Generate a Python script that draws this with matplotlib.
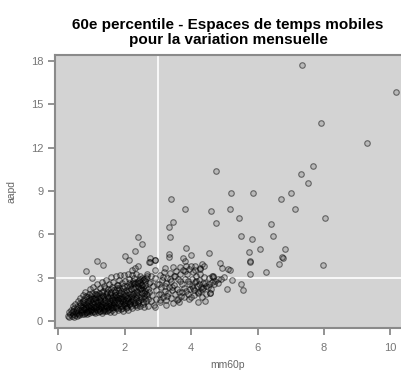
import matplotlib
matplotlib.use("Agg")
import matplotlib.pyplot as plt

# sparse points (mm60p, aapd)
outliers = [
    (7.33, 17.74), (10.17, 15.85), (7.91, 13.74), (9.30, 12.31), (7.68, 10.72),
    (4.76, 10.37), (7.31, 10.19), (7.52, 9.56), (5.20, 8.85), (5.87, 8.89),
    (7.00, 8.89), (6.71, 8.48), (4.61, 7.62), (5.16, 7.78), (7.14, 7.78),
    (5.44, 7.14), (8.02, 7.16), (4.76, 6.77), (6.42, 6.70), (5.49, 5.91),
    (6.46, 5.91), (5.83, 5.70), (3.39, 8.45), (3.82, 7.74), (3.45, 6.86),
    (3.33, 6.49), (3.36, 5.84), (2.40, 5.80),
]

spread = [
    (4.53, 4.73), (5.73, 4.80), (6.08, 4.99), (6.82, 4.99), (5.76, 4.11),
    (5.78, 4.15), (6.75, 4.44), (6.77, 4.40), (6.65, 3.97), (7.97, 3.88),
    (6.27, 3.40), (5.78, 3.24), (4.87, 4.00), (4.93, 3.69), (5.12, 3.58),
    (5.17, 3.51), (4.65, 3.12), (4.63, 3.15), (4.67, 3.08), (4.39, 3.81),
    (4.27, 3.65), (5.24, 2.82), (5.51, 2.59), (5.57, 2.13), (5.09, 2.24),
    (4.43, 1.39), (4.27, 2.10), (4.35, 2.30), (4.45, 2.45), (4.55, 2.55),
    (4.62, 2.70), (4.72, 2.80), (4.82, 2.90), (4.90, 2.95), (5.00, 3.05),
    (4.57, 1.92), (4.58, 1.95), (4.42, 2.61), (4.30, 2.40), (4.20, 2.00),
    (4.15, 2.75), (4.05, 2.30), (3.84, 5.08), (3.33, 4.64), (3.34, 4.46),
    (3.75, 4.39), (3.81, 4.20), (3.99, 4.57), (2.90, 4.21), (2.76, 4.10),
    (2.53, 5.31), (2.31, 4.87), (2.01, 4.53), (2.13, 4.25), (1.16, 4.18),
    (1.36, 3.88), (0.85, 3.49), (1.02, 2.96), (2.76, 4.34), (2.91, 4.23),
    (2.74, 4.11), (2.41, 3.81), (2.31, 3.65), (2.23, 3.53), (2.91, 3.53),
    (3.21, 3.65), (3.46, 3.75), (3.66, 3.78), (3.86, 3.85), (4.01, 3.85),
    (4.11, 3.85), (4.32, 3.95), (4.27, 3.60), (4.22, 1.34), (2.91, 0.98),
    (2.55, 1.20), (2.58, 2.90), (2.62, 1.60), (2.65, 2.30), (2.68, 3.30),
    (2.70, 1.05), (2.72, 2.00), (2.75, 2.70), (2.78, 1.40), (2.80, 3.10),
    (2.83, 1.80), (2.85, 2.45), (2.88, 1.15), (2.90, 3.00), (2.93, 2.15),
    (2.95, 1.55), (2.98, 2.60), (3.02, 1.90), (3.05, 3.20), (3.07, 1.30),
    (3.10, 2.40), (3.12, 2.85), (3.15, 1.70), (3.18, 3.40), (3.20, 2.10),
    (3.23, 1.45), (3.25, 2.65), (3.28, 3.00), (3.30, 1.95), (3.33, 2.35),
    (3.35, 3.35), (3.38, 1.60), (3.40, 2.80), (3.43, 2.15), (3.45, 1.25),
    (3.48, 3.10), (3.50, 2.50), (3.53, 1.85), (3.55, 3.45), (3.58, 2.25),
    (3.60, 1.55), (3.62, 2.95), (3.65, 2.05), (3.68, 3.25), (3.70, 1.75),
    (3.72, 2.60), (3.75, 3.55), (3.78, 2.30), (3.80, 1.65), (3.83, 2.90),
    (3.85, 2.10), (3.88, 3.30), (3.90, 1.90), (3.93, 2.55), (3.95, 3.60),
    (3.98, 2.25), (4.00, 1.70), (4.03, 2.95), (4.05, 3.40), (4.08, 2.15),
    (4.10, 1.80), (4.12, 2.70), (4.15, 3.15), (4.18, 2.45), (4.22, 1.95),
    (4.25, 2.85), (4.28, 3.30), (4.32, 2.20), (4.36, 2.65), (4.40, 3.05),
    (4.45, 1.85), (4.50, 2.35), (4.55, 3.00), (4.60, 2.20), (4.70, 2.55),
    (4.80, 2.65), (3.02, 2.55), (3.08, 1.85), (3.14, 3.05), (3.22, 2.45),
    (3.27, 1.75), (3.36, 2.95), (3.42, 2.35), (3.52, 3.15), (3.57, 1.45),
    (3.66, 2.75), (3.74, 2.05), (3.82, 3.45), (3.92, 2.75), (4.02, 2.45),
    (4.13, 3.55), (4.24, 2.55), (4.34, 1.65), (3.05, 1.45), (3.25, 1.15),
    (3.65, 1.35), (3.95, 1.55),
]

cluster = [
    (0.28, 0.38), (0.31, 0.62), (0.33, 0.29), (0.36, 0.48), (0.37, 0.81),
    (0.40, 0.35), (0.41, 0.66), (0.43, 1.02), (0.45, 0.52), (0.47, 0.31),
    (0.48, 0.88), (0.50, 0.43), (0.51, 1.18), (0.53, 0.71), (0.55, 0.36),
    (0.56, 0.97), (0.58, 1.42), (0.59, 0.58), (0.61, 0.81), (0.62, 0.40),
    (0.64, 1.26), (0.65, 1.61), (0.67, 0.66), (0.68, 0.99), (0.70, 0.47),
    (0.71, 1.33), (0.73, 1.78), (0.74, 0.77), (0.76, 1.09), (0.77, 0.52),
    (0.79, 1.52), (0.80, 0.91), (0.82, 2.02), (0.83, 0.63), (0.84, 1.21),
    (0.86, 1.66), (0.87, 0.48), (0.89, 1.02), (0.90, 1.38), (0.91, 0.72),
    (0.93, 1.88), (0.94, 0.56), (0.95, 1.14), (0.97, 2.21), (0.98, 0.84),
    (0.99, 1.51), (1.01, 0.62), (1.02, 1.27), (1.03, 1.96), (1.05, 0.95),
    (1.06, 2.38), (1.07, 0.71), (1.09, 1.62), (1.10, 1.08), (1.11, 0.55),
    (1.13, 2.09), (1.14, 1.35), (1.15, 0.82), (1.17, 1.79), (1.18, 2.55),
    (1.19, 0.66), (1.21, 1.18), (1.22, 1.98), (1.23, 0.91), (1.25, 1.49),
    (1.26, 2.31), (1.27, 0.74), (1.29, 1.71), (1.30, 1.05), (1.31, 2.68),
    (1.33, 0.58), (1.34, 1.33), (1.35, 2.12), (1.37, 0.87), (1.38, 1.59),
    (1.39, 2.45), (1.41, 1.12), (1.42, 0.69), (1.43, 1.88), (1.45, 2.82),
    (1.46, 0.95), (1.47, 1.41), (1.49, 2.22), (1.50, 0.78), (1.51, 1.67),
    (1.53, 2.58), (1.54, 1.19), (1.55, 0.62), (1.57, 1.95), (1.58, 3.05),
    (1.59, 0.98), (1.61, 1.47), (1.62, 2.35), (1.63, 0.81), (1.65, 1.76),
    (1.66, 2.71), (1.67, 1.25), (1.69, 0.67), (1.70, 2.05), (1.71, 1.54),
    (1.73, 3.12), (1.74, 0.92), (1.75, 1.83), (1.77, 2.48), (1.78, 1.31),
    (1.79, 0.75), (1.81, 2.18), (1.82, 1.62), (1.83, 2.88), (1.85, 1.04),
    (1.86, 1.93), (1.87, 3.22), (1.89, 0.83), (1.90, 1.38), (1.91, 2.62),
    (1.93, 1.71), (1.94, 2.28), (1.95, 0.71), (1.97, 1.15), (1.98, 3.18),
    (1.99, 2.02), (2.01, 1.49), (2.02, 2.75), (2.03, 0.93), (2.05, 1.82),
    (2.06, 2.41), (2.07, 1.24), (2.09, 3.26), (2.10, 1.63), (2.11, 0.79),
    (2.13, 2.14), (2.14, 2.92), (2.15, 1.36), (2.17, 1.91), (2.18, 1.05),
    (2.19, 2.57), (2.21, 3.21), (2.22, 1.72), (2.23, 0.88), (2.25, 2.29),
    (2.26, 1.44), (2.27, 3.02), (2.29, 1.97), (2.30, 1.15), (2.31, 2.66),
    (2.33, 1.58), (2.34, 3.24), (2.35, 2.11), (2.37, 0.96), (2.38, 1.81),
    (2.39, 2.44), (2.41, 1.27), (2.42, 2.85), (2.43, 1.69), (2.45, 3.15),
    (2.46, 2.21), (2.47, 1.08), (2.49, 2.53), (2.50, 1.51), (2.51, 1.93),
    (2.53, 2.97), (2.54, 1.33), (2.56, 2.38), (2.57, 1.74), (2.59, 0.99),
    (2.60, 2.12), (2.62, 2.78), (2.63, 1.42), (2.65, 1.86), (2.67, 3.12),
    (2.69, 2.24), (2.71, 1.57),
]

core = [
    (0.85, 0.95), (0.92, 1.25), (0.99, 0.78), (1.04, 1.42), (1.08, 0.88),
    (1.12, 1.58), (1.16, 1.02), (1.20, 1.36), (1.24, 0.83), (1.28, 1.22),
    (1.32, 1.84), (1.36, 1.01), (1.40, 1.48), (1.44, 0.92), (1.48, 1.75),
    (1.52, 1.06), (1.56, 1.38), (1.60, 2.02), (1.64, 1.12), (1.68, 1.44),
    (1.72, 0.96), (1.76, 1.68), (1.80, 1.21), (1.84, 2.31), (1.88, 1.52),
    (1.92, 1.02), (1.96, 1.86), (2.00, 1.28), (2.04, 2.15), (2.08, 1.58),
    (2.12, 1.21), (2.16, 2.42), (2.20, 1.39), (2.24, 1.85), (2.28, 2.55),
    (2.32, 1.32), (2.36, 2.01), (2.40, 2.62), (2.44, 1.46), (2.48, 2.31),
    (0.74, 0.98), (0.79, 1.24), (0.88, 0.66), (0.96, 1.45), (1.00, 1.72),
    (1.14, 1.91), (1.26, 1.62), (1.34, 0.71), (1.46, 2.05), (1.58, 1.28),
    (1.62, 0.88), (1.70, 1.82), (1.80, 2.52), (1.94, 1.41), (2.06, 0.98),
    (2.18, 1.66), (2.26, 2.78), (2.38, 1.12), (2.46, 2.72), (2.52, 2.18),
    (0.45, 0.72), (0.52, 0.55), (0.57, 0.84), (0.63, 0.52), (0.66, 1.12),
    (0.69, 0.78), (0.72, 0.61), (0.75, 1.42), (0.78, 0.84), (0.81, 0.57),
    (0.83, 1.73), (0.86, 1.13), (0.89, 0.77), (0.92, 0.95), (0.94, 1.63),
    (0.97, 0.68), (1.00, 1.05), (1.02, 0.81), (1.05, 1.56), (1.07, 1.21),
    (1.09, 0.64), (1.11, 1.88), (1.13, 0.99), (1.15, 1.47), (1.18, 0.76),
    (1.20, 1.66), (1.22, 1.09), (1.25, 0.68), (1.27, 1.39), (1.29, 0.95),
    (1.31, 2.02), (1.33, 1.17), (1.36, 1.74), (1.38, 0.81), (1.40, 1.29),
    (1.42, 2.31), (1.45, 1.07), (1.47, 0.73), (1.49, 1.58), (1.51, 1.24),
    (1.53, 0.86), (1.56, 1.82), (1.58, 2.24), (1.60, 1.13), (1.63, 1.61),
    (1.65, 0.95), (1.67, 2.16), (1.69, 1.32), (1.72, 1.71), (1.74, 1.08),
    (1.76, 2.28), (1.79, 1.46), (1.81, 0.89), (1.83, 1.78), (1.85, 1.27),
    (1.88, 2.08), (1.90, 1.61), (1.92, 0.92), (1.95, 1.52), (1.97, 2.41),
    (1.99, 1.19), (2.02, 1.74), (2.04, 1.08), (2.07, 2.03), (2.09, 1.39),
    (2.12, 2.61), (2.14, 1.71), (2.17, 1.18), (2.19, 2.21), (2.22, 1.52),
    (2.25, 2.67), (2.27, 1.26), (2.30, 2.36), (2.33, 1.88), (2.36, 2.74),
    (2.39, 1.41), (2.42, 2.29), (2.45, 2.91), (2.48, 1.71), (2.51, 2.48),
    (2.54, 2.86), (2.58, 1.97), (2.61, 2.51), (2.64, 3.02), (2.68, 1.79),
    (2.72, 2.62),
]

x_ticks = [0, 2, 4, 6, 8, 10]
y_ticks = [0, 3, 6, 9, 12, 15, 18]
ref_x, ref_y = 3, 3

points = outliers + spread + cluster + core
xs = [p[0] for p in points]
ys = [p[1] for p in points]

plt.rcParams['font.family'] = ['Liberation Sans', 'DejaVu Sans']

fig = plt.figure(figsize=(4.01, 3.73), dpi=100)
ax = fig.add_axes([0.137, 0.121, 0.863, 0.732])
ax.set_facecolor('#d3d3d3')

ax.axvline(ref_x, color='white', lw=1.2, zorder=1)
ax.axhline(ref_y, color='white', lw=1.2, zorder=1)

ax.scatter(xs, ys, s=16, facecolors=(0, 0, 0, 0.12), edgecolors=(0, 0, 0, 0.5),
           linewidths=0.8, zorder=2)

ax.set_xlim(-0.1, 10.32)
ax.set_ylim(-0.46, 18.43)
ax.set_xticks(x_ticks)
ax.set_yticks(y_ticks)

for side in ['left', 'bottom', 'top']:
    ax.spines[side].set_color('#8a8a8a')
    ax.spines[side].set_linewidth(1.5)
ax.spines['right'].set_visible(False)
ax.tick_params(colors='#8a8a8a', labelcolor='#777777', labelsize=8,
               length=5, width=1.3, direction='out')
ax.tick_params(axis='x', pad=6)

ax.set_xlabel('mm60p', fontsize=7.5, color='#666666', labelpad=5)
ax.set_ylabel('aapd', fontsize=7.5, color='#666666', labelpad=10)
ax.set_title('60e percentile - Espaces de temps mobiles\npour la variation mensuelle',
             fontsize=11, fontweight='bold', pad=8, linespacing=1.1)

fig.savefig('out.png', dpi=100)
